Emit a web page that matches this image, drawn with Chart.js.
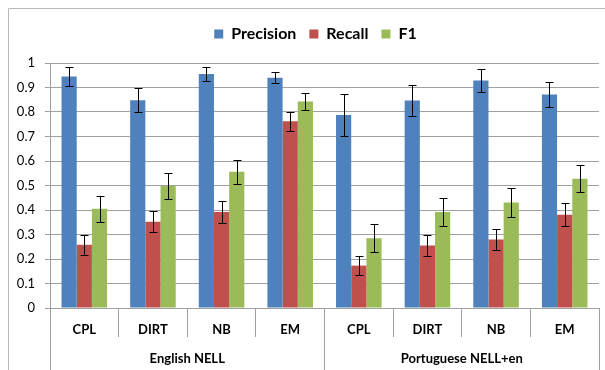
<!DOCTYPE html>
<html>
<head>
<meta charset="utf-8">
<script src="https://cdn.jsdelivr.net/npm/chart.js@4/dist/chart.umd.min.js"></script>
<style>
html,body{margin:0;padding:0;background:#fff;overflow:hidden;}
#wrap{width:605px;height:370px;position:relative;}
</style>
</head>
<body>
<div id="wrap"><canvas id="c" width="605" height="370"></canvas></div>
<script>
const categories = ['CPL','DIRT','NB','EM','CPL','DIRT','NB','EM'];
const groups = ['English NELL','Portuguese NELL+en'];
const seriesNames = ['Precision','Recall','F1'];
const precision = [0.945,0.848,0.955,0.940,0.788,0.847,0.929,0.871];
const precisionErr = [0.040,0.050,0.030,0.022,0.085,0.063,0.047,0.050];
const recall = [0.258,0.352,0.392,0.762,0.173,0.255,0.280,0.381];
const recallErr = [0.040,0.043,0.044,0.038,0.038,0.043,0.043,0.047];
const f1 = [0.405,0.498,0.556,0.843,0.285,0.392,0.431,0.528];
const f1Err = [0.053,0.052,0.050,0.034,0.056,0.058,0.058,0.055];
const colors = ['#4F81BD','#C0504D','#9BBB59'];

const GRID = '#a0a0a0';
const FONT = 'Lato';

const frame = {
  id:'frame',
  beforeDraw(chart){
    const ctx = chart.ctx;
    ctx.save();
    ctx.fillStyle = '#fff';
    ctx.fillRect(0,0,chart.width,chart.height);
    ctx.strokeStyle = '#b8b8b8';
    ctx.lineWidth = 1;
    ctx.beginPath();
    ctx.moveTo(8.5, chart.height);
    ctx.lineTo(8.5, 8.5);
    ctx.lineTo(chart.width, 8.5);
    ctx.stroke();
    ctx.restore();
  }
};

const legendShift = {
  id:'legendShift',
  afterLayout(chart){
    if (chart.legend) { chart.legend.left += 16; chart.legend.right += 16; }
  }
};

const errorBars = {
  id:'errorBars',
  afterDatasetsDraw(chart){
    const ctx = chart.ctx;
    const ys = chart.scales.y;
    ctx.save();
    ctx.strokeStyle = '#000';
    ctx.lineWidth = 1;
    chart.data.datasets.forEach((ds, i) => {
      const meta = chart.getDatasetMeta(i);
      meta.data.forEach((bar, j) => {
        const v = ds.data[j], e = ds.errors[j];
        const x = Math.round(bar.x) + 0.5;
        const t = Math.round(ys.getPixelForValue(v + e)) + 0.5;
        const b = Math.round(ys.getPixelForValue(v - e)) + 0.5;
        ctx.beginPath();
        ctx.moveTo(x, t); ctx.lineTo(x, b);
        ctx.moveTo(x - 4, t); ctx.lineTo(x + 4, t);
        ctx.moveTo(x - 4, b); ctx.lineTo(x + 4, b);
        ctx.stroke();
      });
    });
    ctx.restore();
  }
};

new Chart(document.getElementById('c'), {
  type:'bar',
  data:{
    labels: categories,
    datasets:[
      {label:seriesNames[0], data:precision, errors:precisionErr, backgroundColor:colors[0]},
      {label:seriesNames[1], data:recall, errors:recallErr, backgroundColor:colors[1]},
      {label:seriesNames[2], data:f1, errors:f1Err, backgroundColor:colors[2]}
    ]
  },
  options:{
    responsive:false,
    animation:false,
    devicePixelRatio:1,
    datasets:{bar:{categoryPercentage:0.664, barPercentage:1.0, xAxisID:'x'}},
    layout:{padding:{top:13,right:6,bottom:0,left:0}},
    plugins:{
      legend:{
        position:'top',
        labels:{
          boxWidth:9, boxHeight:9, padding:13,
          color:'#000',
          font:{family:FONT, size:16, weight:'bold'}
        }
      },
      subtitle:{
        display:true, text:' ', weight:500,
        font:{size:1, lineHeight:1},
        padding:{top:5, bottom:5}
      },
      tooltip:{enabled:false}
    },
    scales:{
      y:{
        min:0, max:1,
        ticks:{stepSize:0.1, color:'#000', padding:10,
          font:{family:FONT, size:13},
          callback:(v)=>String(Number(v.toFixed(1)))},
        grid:{color:GRID, tickLength:5, drawTicks:true},
        border:{color:GRID},
        afterFit:(s)=>{ s.width = 50; }
      },
      x:{
        type:'category',
        weight:0,
        offset:true,
        grid:{offset:true, drawOnChartArea:false, tickLength:29, color:GRID},
        border:{color:GRID},
        ticks:{padding:-15, color:'#000', maxRotation:0, autoSkip:false,
          font:{family:FONT, size:13, weight:'bold'}},
        afterFit:(s)=>{ s.height = 29; }
      },
      x2:{
        type:'category',
        position:'bottom',
        labels: groups,
        weight:1,
        offset:true,
        grid:{offset:true, drawOnChartArea:false, tickLength:33, color:GRID},
        border:{display:false},
        ticks:{padding:-19, color:'#000', maxRotation:0, autoSkip:false,
          font:{family:FONT, size:13, weight:'bold'}},
        afterFit:(s)=>{ s.height = 33; }
      }
    }
  },
  plugins:[frame, legendShift, errorBars]
});
</script>
</body>
</html>
